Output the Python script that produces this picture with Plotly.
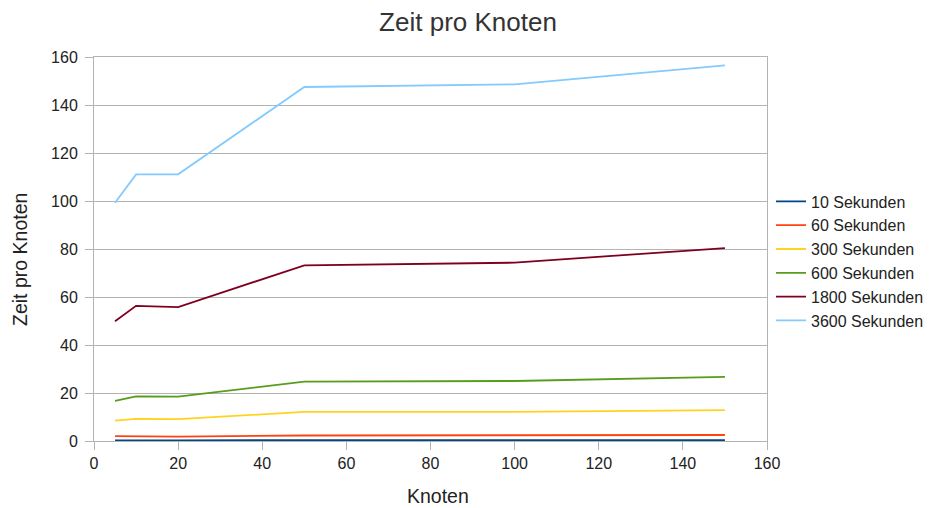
import plotly.graph_objects as go

knoten = [5, 10, 20, 50, 100, 150]
s10 = [0.3, 0.4, 0.3, 0.4, 0.4, 0.4]
s60 = [2.0, 2.0, 1.8, 2.3, 2.3, 2.5]
s300 = [8.5, 9.2, 9.1, 12.1, 12.1, 12.9]
s600 = [16.7, 18.6, 18.5, 24.7, 25.0, 26.7]
s1800 = [49.9, 56.3, 55.8, 73.2, 74.3, 80.4]
s3600 = [99.3, 111.1, 111.1, 147.5, 148.6, 156.5]

series_names = ["10 Sekunden", "60 Sekunden", "300 Sekunden", "600 Sekunden",
                "1800 Sekunden", "3600 Sekunden"]
series_values = [s10, s60, s300, s600, s1800, s3600]
colors = ["#004586", "#ff420e", "#ffd320", "#579d1c", "#7e0021", "#83caff"]

FONT = "Liberation Sans, Arial, sans-serif"
W, H = 936, 508
L, R, T, B = 94, 936 - 767, 57, 508 - 441
pw, ph = W - L - R, H - T - B

fig = go.Figure()
for name, vals, c in zip(series_names, series_values, colors):
    fig.add_trace(go.Scatter(x=knoten, y=vals, mode="lines", name=name,
                             line=dict(color=c, width=1.8)))

axis_common = dict(
    range=[0, 160], dtick=20, tick0=0,
    gridcolor="#b3b3b3", gridwidth=1,
    showline=True, linecolor="#b3b3b3", linewidth=1, mirror=True,
    ticks="outside", ticklen=8, tickcolor="#b3b3b3", tickwidth=1,
    tickfont=dict(family=FONT, size=16, color="#222222"),
    zeroline=False, fixedrange=True,
)

fig.update_layout(
    width=W, height=H,
    margin=dict(l=L, r=R, t=T, b=B, pad=0, autoexpand=False),
    paper_bgcolor="white", plot_bgcolor="white",
    title=dict(text="Zeit pro Knoten", x=0.5, xref="container",
               xanchor="center", y=1 - 21.9 / H, yanchor="middle",
               font=dict(family=FONT, size=26, color="#333333")),
    xaxis=dict(**axis_common, showgrid=False),
    yaxis=dict(**axis_common, showgrid=True, ticklabelstandoff=4),
    legend=dict(x=(771 - L) / pw, xanchor="left", y=(441 - 261) / ph, yanchor="middle",
                font=dict(family=FONT, size=16, color="#222222"),
                bgcolor="rgba(0,0,0,0)", borderwidth=0),
    showlegend=True,
    annotations=[
        dict(text="Knoten", xref="paper", yref="paper",
             x=(437.5 - L) / pw, y=(441 - 496) / ph, xanchor="center", yanchor="middle",
             showarrow=False, font=dict(family=FONT, size=19.5, color="#222222")),
        dict(text="Zeit pro Knoten", xref="paper", yref="paper",
             x=(20 - L) / pw, y=(441 - 260) / ph, xanchor="center", yanchor="middle",
             textangle=-90, showarrow=False,
             font=dict(family=FONT, size=19.5, color="#222222")),
    ],
)

fig.write_html("out.html")
